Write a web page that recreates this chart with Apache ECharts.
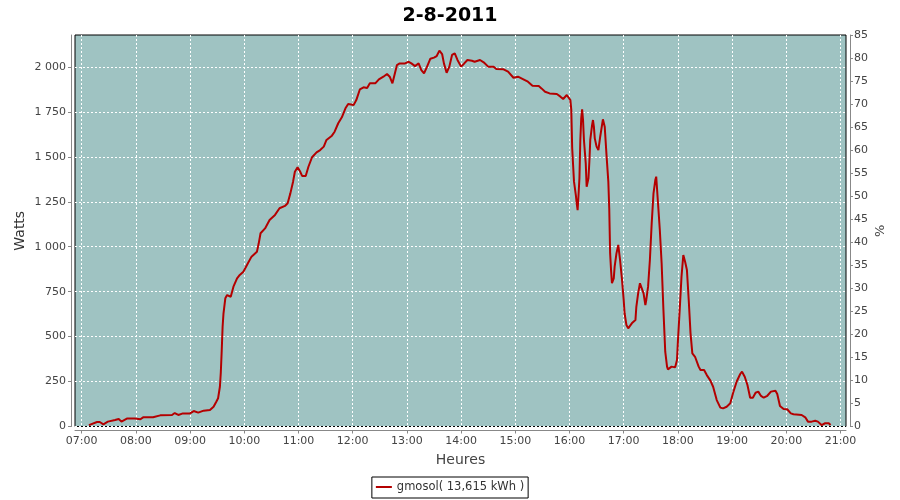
<!DOCTYPE html>
<html><head><meta charset="utf-8">
<script src="https://cdn.jsdelivr.net/npm/echarts@6/dist/echarts.min.js"></script>
<style>html,body{margin:0;padding:0;background:#fff}#c{width:900px;height:500px}</style>
</head><body><div id="c"></div>
<script>
const chartTitle = '2-8-2011';
const seriesName = 'gmosol( 13,615 kWh )';
const xAxisName = 'Heures';
const leftAxisName = 'Watts';
const rightAxisName = '%';
const hourTicks = ['07:00','08:00','09:00','10:00','11:00','12:00','13:00','14:00','15:00','16:00','17:00','18:00','19:00','20:00','21:00'];
const wattTicks = [0,250,500,750,1000,1250,1500,1750,2000];
const percentTicks = [0,5,10,15,20,25,30,35,40,45,50,55,60,65,70,75,80,85];
const xRange = ['06:52.6','21:06.1'];
const wattMax = 2178;

const times = ['07:08','07:17','07:20','07:24','07:29','07:37','07:41','07:44','07:50','07:59','08:05','08:08','08:19','08:27','08:40','08:43','08:47','08:52','09:00','09:04','09:09','09:15','09:22','09:26','09:29','09:31','09:33','09:34','09:35','09:36','09:37','09:39','09:41','09:45','09:48','09:52','09:55','09:59','10:04','10:08','10:14','10:16','10:18','10:23','10:28','10:34','10:39','10:45','10:48','10:51','10:54','10:56','10:59','11:02','11:04','11:08','11:11','11:15','11:20','11:24','11:28','11:31','11:37','11:40','11:44','11:48','11:52','11:55','12:01','12:04','12:08','12:12','12:16','12:19','12:25','12:29','12:34','12:38','12:41','12:44','12:49','12:52','12:58','13:02','13:05','13:09','13:13','13:16','13:19','13:22','13:26','13:30','13:33','13:36','13:39','13:41','13:44','13:47','13:50','13:53','13:56','14:00','14:03','14:07','14:12','14:15','14:21','14:25','14:30','14:36','14:39','14:47','14:52','14:58','15:03','15:09','15:14','15:19','15:26','15:29','15:33','15:38','15:46','15:50','15:53','15:57','15:59','16:01','16:02','16:03','16:04','16:05','16:07','16:08','16:09','16:10','16:11','16:12','16:13','16:14','16:15','16:16','16:18','16:19','16:21','16:22','16:23','16:25','16:26','16:27','16:28','16:30','16:32','16:34','16:36','16:37','16:39','16:41','16:43','16:44','16:45','16:46','16:47','16:49','16:50','16:52','16:54','16:56','16:58','17:00','17:01','17:03','17:05','17:09','17:13','17:14','17:16','17:18','17:20','17:22','17:24','17:25','17:27','17:29','17:31','17:33','17:35','17:36','17:37','17:38','17:40','17:42','17:44','17:46','17:48','17:49','17:53','17:55','17:57','17:59','18:00','18:02','18:04','18:06','18:08','18:10','18:12','18:14','18:16','18:19','18:23','18:25','18:29','18:32','18:36','18:39','18:43','18:47','18:50','18:54','18:58','19:01','19:05','19:09','19:11','19:14','19:17','19:20','19:23','19:26','19:29','19:32','19:35','19:39','19:43','19:48','19:50','19:53','19:57','20:01','20:05','20:08','20:17','20:21','20:24','20:28','20:32','20:35','20:39','20:43','20:47','20:49'];
const watts = [8,25,25,12,27,36,42,27,44,44,40,51,51,62,64,75,64,73,73,86,77,88,92,110,138,157,221,300,420,555,630,713,731,722,778,824,843,861,908,945,972,1019,1075,1102,1149,1177,1214,1227,1242,1297,1362,1417,1442,1417,1394,1394,1445,1498,1525,1538,1557,1594,1618,1640,1687,1720,1770,1794,1788,1816,1876,1887,1883,1909,1909,1931,1946,1961,1946,1909,2011,2020,2020,2029,2020,2005,2020,1983,1965,1998,2046,2052,2061,2091,2072,2020,1968,2002,2067,2076,2039,2002,2017,2039,2035,2029,2039,2026,2002,2002,1989,1987,1974,1940,1946,1931,1918,1896,1894,1881,1862,1853,1850,1835,1822,1844,1850,1816,1761,1548,1455,1362,1288,1242,1204,1288,1381,1594,1714,1765,1705,1594,1464,1334,1381,1473,1594,1677,1705,1668,1603,1557,1538,1612,1677,1709,1668,1510,1362,1214,963,871,797,824,889,963,1010,926,824,704,630,565,546,574,592,666,741,797,806,741,676,704,778,926,1130,1297,1371,1390,1316,1242,1093,908,648,416,333,318,333,342,329,370,472,648,833,954,917,871,704,518,407,388,333,314,314,286,255,221,147,105,101,110,129,185,249,292,305,277,231,160,160,188,194,170,160,171,194,199,181,114,97,96,73,68,64,51,27,27,32,27,8,18,18,8];

function toMin(s){ const p = s.split(':'); return (+p[0]) * 60 + parseFloat(p[1]); }
function fmtHM(v){ const h = Math.floor(v / 60), m = Math.round(v - h * 60); return String(h).padStart(2,'0') + ':' + String(m).padStart(2,'0'); }
function fmtThousands(v){ return String(v).replace(/\B(?=(\d{3})+(?!\d))/g, ' '); }

const FONT = 'DejaVu Sans';
const AXIS_GRAY = '#888888';
const LABEL = '#444444';
const hourVals = hourTicks.map(toMin);
const data = times.map((t, i) => [toMin(t), watts[i]]);

const chart = echarts.init(document.getElementById('c'), null, {renderer: 'canvas'});
chart.setOption({
  animation: false,
  backgroundColor: '#ffffff',
  textStyle: {fontFamily: FONT},
  title: {
    text: chartTitle, left: 'center', top: 2,
    textStyle: {fontFamily: FONT, fontSize: 19, fontWeight: 'bold', color: '#000'}
  },
  legend: {
    top: 477, left: 'center',
    data: [seriesName],
    icon: 'rect', itemWidth: 16, itemHeight: 2, itemGap: 4,
    padding: [4, 4, 5, 4],
    borderColor: '#000', borderWidth: 1,
    textStyle: {fontFamily: FONT, fontSize: 11.5, color: '#333'}
  },
  grid: {
    left: 75, right: 54, top: 35, bottom: 73.5,
    show: true, backgroundColor: '#9fc3c2', borderColor: '#000', borderWidth: 1,
    containLabel: false
  },
  xAxis: {
    type: 'value', min: toMin(xRange[0]), max: toMin(xRange[1]),
    offset: 4,
    name: xAxisName, nameLocation: 'middle', nameGap: 23, nameMoveOverlap: false,
    nameTextStyle: {fontFamily: FONT, fontSize: 14, color: LABEL},
    axisLine: {show: true, onZero: false, lineStyle: {color: AXIS_GRAY, width: 1}},
    axisTick: {show: true, length: 3, customValues: hourVals, lineStyle: {color: AXIS_GRAY}},
    axisLabel: {customValues: hourVals, formatter: fmtHM, fontFamily: FONT, fontSize: 11, color: LABEL, margin: 5},
    splitLine: {show: true, customValues: hourVals, lineStyle: {color: '#ffffff', type: [2, 2], width: 1}}
  },
  yAxis: [{
    type: 'value', min: 0, max: wattMax, position: 'left', offset: 4,
    name: leftAxisName, nameLocation: 'middle', nameGap: 44, nameMoveOverlap: false,
    nameTextStyle: {fontFamily: FONT, fontSize: 14, color: '#333'},
    axisLine: {show: true, onZero: false, lineStyle: {color: AXIS_GRAY, width: 1}},
    axisTick: {show: true, length: 3, customValues: wattTicks, lineStyle: {color: AXIS_GRAY}},
    axisLabel: {customValues: wattTicks, formatter: fmtThousands, fontFamily: FONT, fontSize: 11, color: LABEL, margin: 5},
    splitLine: {show: true, customValues: wattTicks, lineStyle: {color: '#ffffff', type: [2, 2], width: 1}}
  }, {
    type: 'value', min: 0, max: 85, interval: 5, position: 'right', offset: 4,
    name: rightAxisName, nameLocation: 'middle', nameGap: 24, nameMoveOverlap: false,
    nameTextStyle: {fontFamily: FONT, fontSize: 13, color: LABEL},
    axisLine: {show: true, onZero: false, lineStyle: {color: AXIS_GRAY, width: 1}},
    axisTick: {show: true, length: 3, customValues: percentTicks, lineStyle: {color: AXIS_GRAY}},
    axisLabel: {customValues: percentTicks, fontFamily: FONT, fontSize: 11, color: LABEL, margin: 4},
    splitLine: {show: false}
  }],
  series: [{
    name: seriesName, type: 'line', xAxisIndex: 0, yAxisIndex: 0,
    data: data, showSymbol: false, symbol: 'none',
    lineStyle: {color: '#b40000', width: 2}, itemStyle: {color: '#b40000'},
    clip: true
  }]
});
</script>
</body></html>
